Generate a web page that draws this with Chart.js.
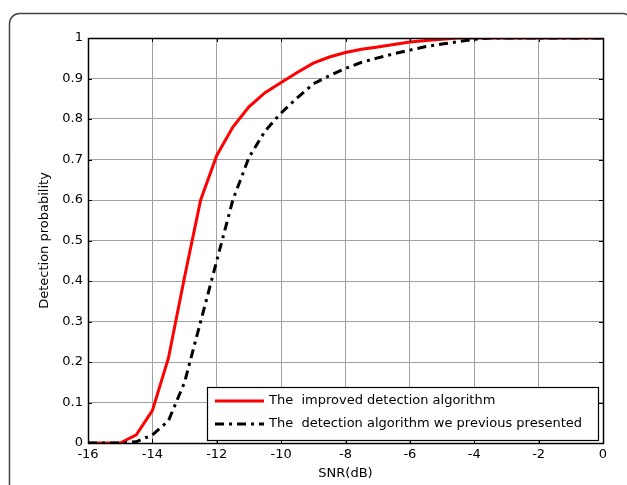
<!DOCTYPE html>
<html>
<head>
<meta charset="utf-8">
<script src="https://cdn.jsdelivr.net/npm/chart.js@4"></script>
<style>
  html, body { margin: 0; padding: 0; background: #fff; }
  #wrap { width: 627px; height: 485px; }
</style>
</head>
<body>
<div id="wrap"><canvas id="grafico"></canvas></div>
<script>
// SNR (dB) en pasos de 0.5
const snr = [-16, -15.5, -15, -14.5, -14, -13.5, -13, -12.5, -12, -11.5, -11, -10.5, -10, -9.5, -9, -8.5, -8, -7.5, -7, -6.5, -6, -5.5, -5, -4.5, -4, -3.5, -3, -2.5, -2, -1.5, -1, -0.5, 0];
// Probabilidad de deteccion
const mejorado = [0, 0, 0, 0.02, 0.08, 0.21, 0.41, 0.6, 0.71, 0.78, 0.83, 0.865, 0.89, 0.915, 0.938, 0.953, 0.964, 0.972, 0.978, 0.984, 0.99, 0.994, 0.997, 1, 1, 1, 1, 1, 1, 1, 1, 1, 1];
const anterior = [0, 0, 0, 0.003, 0.02, 0.055, 0.15, 0.3, 0.45, 0.6, 0.705, 0.77, 0.815, 0.852, 0.887, 0.907, 0.925, 0.94, 0.951, 0.961, 0.97, 0.979, 0.985, 0.991, 0.997, 1, 1, 1, 1, 1, 1, 1, 1];
const etiquetas = ['The  improved detection algorithm', 'The  detection algorithm we previous presented'];
const xTicks = [-16, -14, -12, -10, -8, -6, -4, -2, 0];
const yTicks = [0, 0.1, 0.2, 0.3, 0.4, 0.5, 0.6, 0.7, 0.8, 0.9, 1];

const FUENTE = { family: 'DejaVu Sans', size: 13 };
const puntos = (ys) => snr.map((x, i) => ({ x: x, y: ys[i] }));

// Marco, caja de ejes, marcas internas y leyenda
const decoracion = {
    id: 'decoracion',
    beforeDraw(chart) {
        const ctx = chart.ctx;
        ctx.save();
        ctx.fillStyle = '#fff';
        ctx.fillRect(0, 0, chart.width, chart.height);
        ctx.strokeStyle = '#444';
        ctx.lineWidth = 1.5;
        ctx.beginPath();
        ctx.roundRect(9.5, 13.5, 623, 500, 10);
        ctx.stroke();
        ctx.restore();
    },
    afterDatasetsDraw(chart) {
        const ctx = chart.ctx;
        const a = chart.chartArea;
        const sx = chart.scales.x, sy = chart.scales.y;
        ctx.save();
        ctx.strokeStyle = '#000';
        ctx.lineWidth = 1;
        ctx.setLineDash([]);
        ctx.beginPath();
        xTicks.forEach(v => {
            const px = Math.round(sx.getPixelForValue(v)) + 0.5;
            ctx.moveTo(px, a.top); ctx.lineTo(px, a.top + 4);
            ctx.moveTo(px, a.bottom); ctx.lineTo(px, a.bottom - 4);
        });
        yTicks.forEach(v => {
            const py = Math.round(sy.getPixelForValue(v)) + 0.5;
            ctx.moveTo(a.left, py); ctx.lineTo(a.left + 4, py);
            ctx.moveTo(a.right, py); ctx.lineTo(a.right - 4, py);
        });
        ctx.stroke();
        ctx.lineWidth = 1.5;
        ctx.strokeRect(Math.round(a.left) + 0.5, Math.round(a.top) + 0.5, Math.round(a.right - a.left), Math.round(a.bottom - a.top));

        // Leyenda
        const lx = 207.5, ly = 387.5, lw = 391, lh = 53;
        ctx.fillStyle = '#fff';
        ctx.fillRect(lx, ly, lw, lh);
        ctx.lineWidth = 1.2;
        ctx.strokeStyle = '#000';
        ctx.strokeRect(lx, ly, lw, lh);
        ctx.font = FUENTE.size + 'px "' + FUENTE.family + '"';
        ctx.textBaseline = 'middle';
        ctx.textAlign = 'left';
        const filas = [401, 424];
        chart.data.datasets.slice().sort((p, q) => p.leyenda - q.leyenda).forEach((ds, i) => {
            ctx.strokeStyle = ds.borderColor;
            ctx.lineWidth = ds.borderWidth;
            ctx.setLineDash(ds.borderDash || []);
            ctx.beginPath();
            ctx.moveTo(215, filas[i]);
            ctx.lineTo(264, filas[i]);
            ctx.stroke();
            ctx.fillStyle = '#000';
            ctx.fillText(ds.label, 269, filas[i]);
        });
        ctx.restore();
    }
};

new Chart(document.getElementById('grafico'), {
    type: 'line',
    data: {
        datasets: [{
            label: etiquetas[0],
            leyenda: 0,
            data: puntos(mejorado),
            borderColor: '#ff0000',
            borderWidth: 3,
            pointRadius: 0,
            tension: 0,
            order: 2,
            fill: false
        }, {
            label: etiquetas[1],
            leyenda: 1,
            data: puntos(anterior),
            borderColor: '#000000',
            borderWidth: 3,
            borderDash: [9, 5, 3, 5],
            pointRadius: 0,
            tension: 0,
            order: 1,
            fill: false
        }]
    },
    options: {
        responsive: true,
        maintainAspectRatio: false,
        animation: false,
        events: [],
        layout: { padding: { left: 0, top: 38, right: 24, bottom: 0 } },
        plugins: {
            legend: { display: false },
            tooltip: { enabled: false }
        },
        scales: {
            x: {
                type: 'linear',
                min: -16,
                max: 0,
                afterFit: (s) => { s.height = 42; },
                afterBuildTicks: (s) => { s.ticks = xTicks.map(v => ({ value: v })); },
                border: { display: false },
                grid: { color: '#a0a0a0', lineWidth: 1, drawTicks: false },
                ticks: { color: '#000', font: FUENTE, padding: 4, maxRotation: 0 },
                title: {
                    display: true,
                    text: 'SNR(dB)',
                    color: '#000',
                    font: FUENTE,
                    padding: { top: 0, bottom: 4 }
                }
            },
            y: {
                type: 'linear',
                min: 0,
                max: 1,
                afterFit: (s) => { s.width = 88; },
                afterBuildTicks: (s) => { s.ticks = yTicks.map(v => ({ value: v })); },
                border: { display: false },
                grid: { color: '#a0a0a0', lineWidth: 1, drawTicks: false },
                ticks: {
                    color: '#000',
                    font: FUENTE,
                    padding: 5,
                    callback: (v) => String(Number(v.toFixed(1)))
                },
                title: {
                    display: true,
                    text: 'Detection probability',
                    color: '#000',
                    font: FUENTE,
                    padding: { top: 37, bottom: 0 }
                }
            }
        }
    },
    plugins: [decoracion]
});
</script>
</body>
</html>
